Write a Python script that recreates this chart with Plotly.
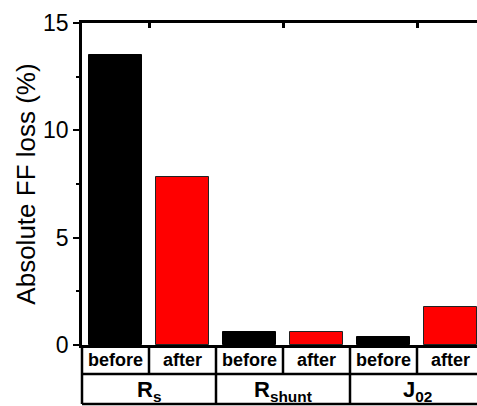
import plotly.graph_objects as go

# ---- data ----
groups = ["R<sub>s</sub>", "R<sub>shunt</sub>", "J<sub>02</sub>"]
conditions = ["before", "after"]
before_vals = [13.5, 0.59, 0.39]
after_vals = [7.82, 0.62, 1.78]
y_ticks = [0, 5, 10, 15]

n_cond = len(conditions)
x_before = [g * n_cond + 0 for g in range(len(groups))]
x_after = [g * n_cond + 1 for g in range(len(groups))]
group_centers = [g * n_cond + (n_cond - 1) / 2 for g in range(len(groups))]

W, H = 477, 406
ML, MR, MT, MB = 82, 0, 23, 61
plot_w = W - ML - MR
plot_h = H - MT - MB
slot_px = 67.0
x_range = [-0.5, -0.5 + plot_w / slot_px]

FONT = "Arial, Liberation Sans, sans-serif"
LW = 2.5

fig = go.Figure()
fig.add_trace(go.Bar(x=x_before, y=before_vals, width=0.8, name="before",
                     marker=dict(color="#000000", line=dict(color="#000000", width=1))))
fig.add_trace(go.Bar(x=x_after, y=after_vals, width=0.8, name="after",
                     marker=dict(color="#FF0000", line=dict(color="#222222", width=1))))
# invisible trace to host the top axis (inward ticks at group centres)
fig.add_trace(go.Scatter(x=[group_centers[0]], y=[0], xaxis="x2", mode="markers",
                         marker=dict(opacity=0), hoverinfo="skip", showlegend=False))

row1 = -29 / plot_h
row2 = -59 / plot_h
shapes = []
for yy in (row1, row2):
    shapes.append(dict(type="line", xref="paper", yref="paper", x0=0, x1=1.02, y0=yy, y1=yy,
                       line=dict(color="black", width=LW)))
shapes.append(dict(type="line", xref="paper", yref="paper", x0=0, x1=0, y0=0, y1=row2,
                   line=dict(color="black", width=LW)))
for k in range(len(groups) * n_cond - 1):
    xb = k + 0.5
    shapes.append(dict(type="line", xref="x", yref="paper", x0=xb, x1=xb, y0=0, y1=row1,
                       line=dict(color="black", width=LW)))
for g in range(len(groups) - 1):
    xb = (g + 1) * n_cond - 0.5
    shapes.append(dict(type="line", xref="x", yref="paper", x0=xb, x1=xb, y0=row1, y1=row2,
                       line=dict(color="black", width=LW)))

annotations = []
for g in range(len(groups)):
    for c, cond in enumerate(conditions):
        annotations.append(dict(x=g * n_cond + c, y=row1 / 2, xref="x", yref="paper",
                                text="<b>%s</b>" % cond, showarrow=False,
                                xanchor="center", yanchor="middle",
                                font=dict(family=FONT, size=18, color="black")))
    annotations.append(dict(x=group_centers[g], y=(row1 + row2) / 2 - 0.005, xref="x", yref="paper",
                            text="<b>%s</b>" % groups[g], showarrow=False,
                            xanchor="center", yanchor="middle",
                            font=dict(family=FONT, size=22, color="black")))

fig.update_layout(
    width=W, height=H,
    margin=dict(l=ML, r=MR, t=MT, b=MB, pad=0, autoexpand=False),
    paper_bgcolor="white", plot_bgcolor="white",
    showlegend=False,
    bargap=0,
    shapes=shapes,
    annotations=annotations,
    xaxis=dict(range=x_range, showline=True, linecolor="black", linewidth=LW, mirror=True,
               showticklabels=False, ticks="", showgrid=False, zeroline=False),
    xaxis2=dict(range=x_range, overlaying="x", side="top", anchor="y",
                tickvals=group_centers, ticks="inside", ticklen=5, tickwidth=2.5,
                tickcolor="black", showticklabels=False, showline=False,
                showgrid=False, zeroline=False),
    yaxis=dict(range=[0, 15], tickvals=y_ticks, ticks="outside", ticklen=6, tickwidth=2,
               tickcolor="black", showline=True, linecolor="black", linewidth=LW,
               showgrid=False, zeroline=False,
               tickfont=dict(family=FONT, size=23, color="black"),
               minor=dict(tickvals=[2.5, 7.5, 12.5], ticks="outside", ticklen=3,
                          tickwidth=2, tickcolor="black"),
               title=dict(text="Absolute FF loss (%)", standoff=0,
                          font=dict(family=FONT, size=26, color="black"))),
)

fig.write_html("out.html", config={"displayModeBar": False},
               post_script="document.body.style.margin='0px';")
